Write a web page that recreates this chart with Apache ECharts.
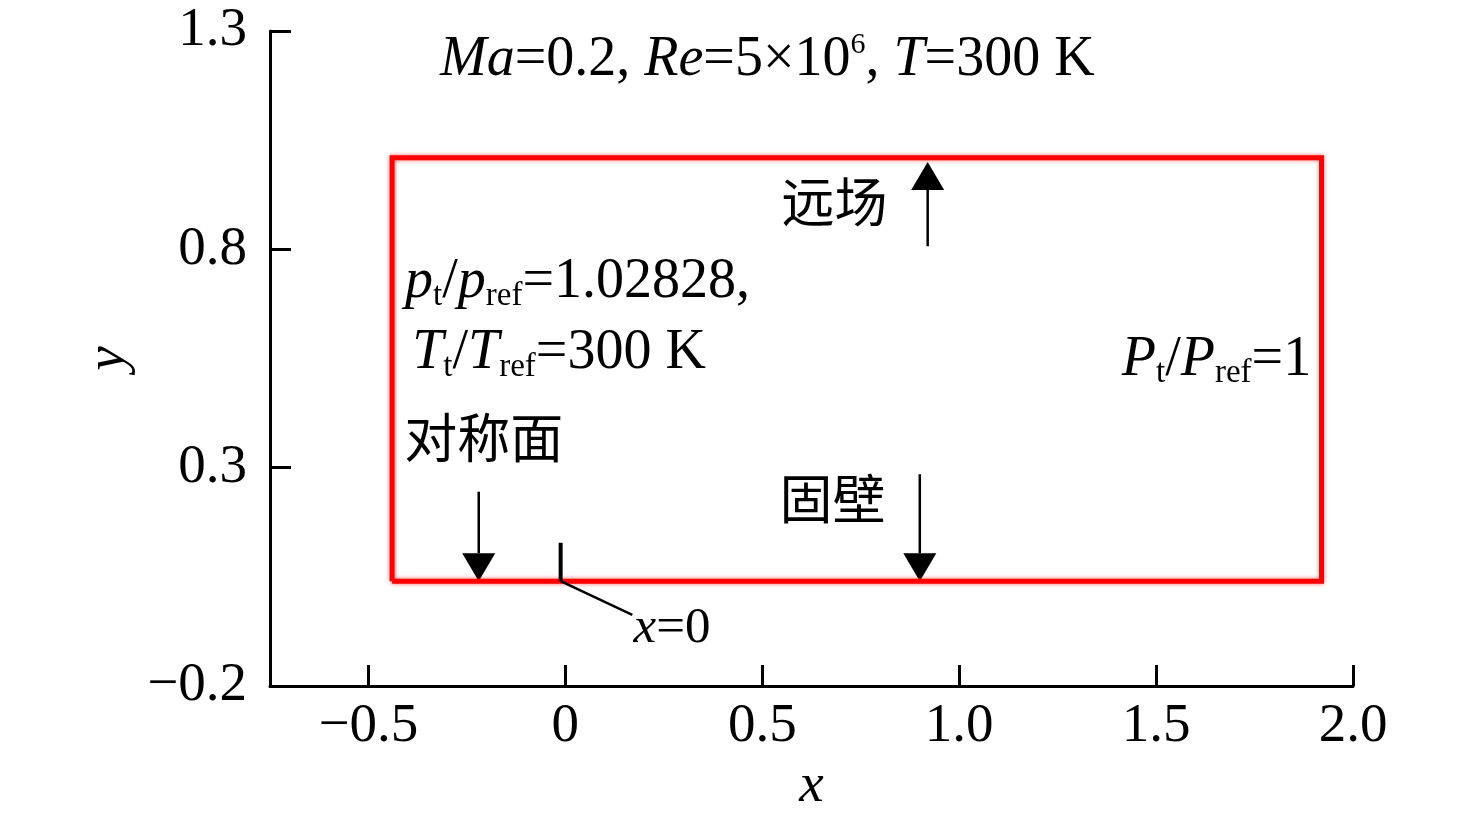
<!DOCTYPE html>
<html>
<head>
<meta charset="utf-8">
<title>计算域与边界条件</title>
<script src="https://cdn.jsdelivr.net/npm/echarts@6/dist/echarts.min.js"></script>
<style>
  html, body { margin: 0; padding: 0; background: #fff; }
  #chart { width: 1476px; height: 823px; }
</style>
</head>
<body>
<div id="chart"></div>
<script>
// 坐标轴刻度
var xTicks = [-0.5, 0, 0.5, 1.0, 1.5, 2.0];
var yTicks = [-0.2, 0.3, 0.8, 1.3];

// 计算域边界（红框），闭合折线
var domainX = [-0.44, 1.92, 1.92, -0.44, -0.44];
var domainY = [0.04, 0.04, 1.01, 1.01, 0.04];

// 箭头：起点x, 起点y, 终点x(箭尖), 终点y
var arrowFarfield = [0.92, 0.807, 0.92, 1.0];
var arrowWall = [0.90, 0.285, 0.90, 0.04];
var arrowSym = [-0.22, 0.245, -0.22, 0.04];

// x=0 标记及引线
var markerX = [-0.012, -0.012];
var markerY = [0.128, 0.04];
var leaderX = [-0.012, 0.17];
var leaderY = [0.04, -0.037];

// 文字标注（左端、垂直居中位置）
var noteX = [-0.407, -0.389, 1.413, 0.549, 0.544, -0.409, 0.173];
var noteY = [0.724, 0.561, 0.547, 0.909, 0.2285, 0.368, -0.068];
var noteText = [
	'{i|p}{s|t}{n|/}{i|p}{s|ref}{n|=1.02828,}',
	'{i|T}{s|t}{n|/}{i|T}{s|ref}{n|=300 K}',
	'{i|P}{s|t}{n|/}{i|P}{s|ref}{n|=1}',
	'{c|远场}',
	'{c|固壁}',
	'{c|对称面}',
	'{xi|x}{xn|=0}'
];

var serif = 'Liberation Serif';
var richStyle = {
	i: { fontFamily: serif, fontStyle: 'italic', fontWeight: 'normal', fontSize: 56, lineHeight: 60, color: '#000' },
	n: { fontFamily: serif, fontWeight: 'normal', fontSize: 56, lineHeight: 60, color: '#000' },
	s: { fontFamily: serif, fontWeight: 'normal', fontSize: 33, lineHeight: 26, verticalAlign: 'bottom', color: '#000' },
	sup: { fontFamily: serif, fontWeight: 'normal', fontSize: 30, lineHeight: 40, verticalAlign: 'top', color: '#000' },
	c: { fontFamily: 'Noto Sans CJK SC', fontWeight: 'normal', fontSize: 53, lineHeight: 60, color: '#000' },
	xi: { fontFamily: serif, fontStyle: 'italic', fontWeight: 'normal', fontSize: 51, lineHeight: 56, color: '#000' },
	xn: { fontFamily: serif, fontWeight: 'normal', fontSize: 51, lineHeight: 56, color: '#000' }
};

function zip(xs, ys) {
	var out = [];
	for (var i = 0; i < xs.length; i++) {
		out.push([xs[i], ys[i]]);
	}
	return out;
}

function fmt(v) {
	if (Math.abs(v) < 1e-9) return '0';
	var s = Math.abs(v).toFixed(1);
	return v < 0 ? '\u2212' + s : s;
}

function renderArrow(params, api) {
	var p1 = api.coord([api.value(0), api.value(1)]);
	var p2 = api.coord([api.value(2), api.value(3)]);
	var dx = p2[0] - p1[0], dy = p2[1] - p1[1];
	var len = Math.sqrt(dx * dx + dy * dy);
	var ux = dx / len, uy = dy / len;
	var headL = 28, headW = 33;
	var bx = p2[0] - ux * headL, by = p2[1] - uy * headL;
	return {
		type: 'group',
		children: [
			{
				type: 'line',
				shape: { x1: p1[0], y1: p1[1], x2: bx, y2: by },
				style: { stroke: '#000', lineWidth: 2.5 }
			},
			{
				type: 'polygon',
				shape: {
					points: [
						[p2[0], p2[1]],
						[bx - uy * headW / 2, by + ux * headW / 2],
						[bx + uy * headW / 2, by - ux * headW / 2]
					]
				},
				style: { fill: '#000' }
			}
		]
	};
}

var noteData = [];
for (var k = 0; k < noteX.length; k++) {
	noteData.push({ value: [noteX[k], noteY[k]], text: noteText[k] });
}

var myChart = echarts.init(document.getElementById('chart'));
var option = {
	animation: false,
	backgroundColor: '#fff',
	title: {
		text: '{i|Ma}{n|=0.2, }{i|Re}{n|=5\u00d710}{sup|6}{n|, }{i|T}{n|=300 K}',
		left: 435,
		top: 25,
		textStyle: { fontWeight: 'normal', color: '#000', rich: richStyle }
	},
	grid: {
		left: 270,
		right: 123,
		top: 31,
		bottom: 137
	},
	xAxis: {
		type: 'value',
		min: -0.75,
		max: 2.0,
		name: 'x',
		nameLocation: 'middle',
		nameGap: 70,
		nameTextStyle: { fontFamily: serif, fontStyle: 'italic', fontSize: 55, color: '#000' },
		axisLine: { show: true, onZero: false, lineStyle: { color: '#000', width: 3 } },
		axisTick: { show: true, inside: true, length: 21, customValues: xTicks, lineStyle: { color: '#000', width: 3 } },
		axisLabel: {
			customValues: xTicks,
			margin: 13,
			fontFamily: serif,
			fontSize: 55,
			color: '#000',
			formatter: fmt
		},
		splitLine: { show: false }
	},
	yAxis: {
		type: 'value',
		min: -0.2,
		max: 1.3,
		interval: 0.5,
		name: 'y',
		nameLocation: 'middle',
		nameGap: 122,
		nameTextStyle: { fontFamily: serif, fontStyle: 'italic', fontSize: 55, color: '#000' },
		axisLine: { show: true, onZero: false, lineStyle: { color: '#000', width: 3 } },
		axisTick: { show: true, inside: true, length: 21, customValues: yTicks, lineStyle: { color: '#000', width: 3 } },
		axisLabel: {
			customValues: yTicks,
			margin: 23,
			fontFamily: serif,
			fontSize: 55,
			color: '#000',
			formatter: fmt
		},
		splitLine: { show: false }
	},
	series: [
		{
			name: '计算域',
			type: 'line',
			data: zip(domainX, domainY),
			symbol: 'none',
			silent: true,
			lineStyle: {
				color: '#ff0000',
				width: 5,
				join: 'miter',
				shadowBlur: 4,
				shadowColor: 'rgba(255,0,0,0.6)'
			}
		},
		{
			name: 'x=0标记',
			type: 'line',
			data: zip(markerX, markerY),
			symbol: 'none',
			lineStyle: { color: '#000', width: 4 }
		},
		{
			name: '引线',
			type: 'line',
			data: zip(leaderX, leaderY),
			symbol: 'none',
			lineStyle: { color: '#000', width: 2.5 }
		},
		{
			name: '箭头',
			type: 'custom',
			renderItem: renderArrow,
			encode: { x: [0, 2], y: [1, 3] },
			data: [arrowFarfield, arrowWall, arrowSym],
			clip: false
		},
		{
			name: '标注',
			type: 'scatter',
			symbolSize: 0,
			data: noteData,
			itemStyle: { opacity: 1 },
			label: {
				show: true,
				position: 'right',
				distance: 0,
				color: '#000',
				opacity: 1,
				formatter: function (p) { return p.data.text; },
				rich: richStyle
			}
		}
	]
};
myChart.setOption(option);
window.onresize = function () { myChart.resize(); };
</script>
</body>
</html>
